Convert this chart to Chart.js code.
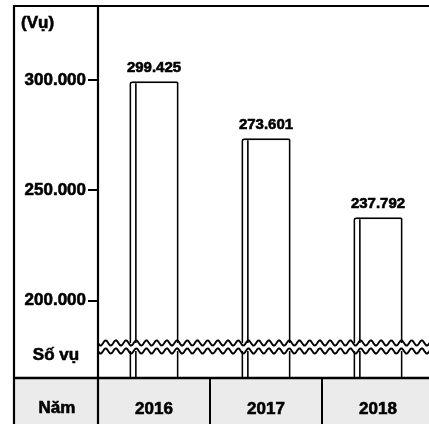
<!DOCTYPE html>
<html>
<head>
<meta charset="utf-8">
<script src="https://cdn.jsdelivr.net/npm/chart.js@4.4.0/dist/chart.umd.min.js"></script>
<style>
html,body{margin:0;padding:0;background:#fff;overflow:hidden;}
#wrap{width:440px;height:424px;position:relative;}
</style>
</head>
<body>
<div id="wrap"><canvas id="c" width="440" height="424"></canvas></div>
<script>
const categories = ["2016", "2017", "2018"];
const values = [299425, 273601, 237792];
const yTicks = [200000, 250000, 300000];
const unitLabel = "(Vụ)";
const seriesLabel = "Số vụ";
const rowLabel = "Năm";

const FONT = "'Liberation Sans', Arial, Helvetica, sans-serif";
function fmt(v){ return String(v).replace(/\B(?=(\d{3})+(?!\d))/g, "."); }

function boldText(ctx, t, x, y){
  ctx.lineWidth = 0.6; ctx.strokeStyle = '#000';
  ctx.strokeText(t, x, y); ctx.fillText(t, x, y);
}

const framePlugin = {
  id: 'frame',
  beforeDraw(chart){
    const ctx = chart.ctx, a = chart.chartArea;
    const H = chart.height, W = chart.width;
    ctx.save();
    ctx.fillStyle = '#ebebeb';
    ctx.fillRect(14, a.bottom, W - 14, H - a.bottom);
    ctx.restore();
  },
  afterDatasetsDraw(chart){
    const ctx = chart.ctx, a = chart.chartArea;
    const H = chart.height, W = chart.width;
    const meta = chart.getDatasetMeta(0);
    ctx.save();
    meta.data.forEach((bar, i) => {
      const left = bar.x - bar.width/2;
      ctx.strokeStyle = '#000'; ctx.lineWidth = 1.6;
      ctx.beginPath(); ctx.moveTo(left + 6.5, bar.y + 2); ctx.lineTo(left + 6.5, a.bottom); ctx.stroke();
      ctx.fillStyle = '#000';
      ctx.font = "bold 15px " + FONT;
      ctx.textAlign = 'center'; ctx.textBaseline = 'middle';
      boldText(ctx, fmt(values[i]), bar.x, bar.y - 13);
    });
    const y1 = a.bottom - 35, y2 = a.bottom - 27;
    ctx.fillStyle = '#fff';
    ctx.fillRect(a.left + 1, y1, W - a.left, y2 - y1);
    ctx.strokeStyle = '#000'; ctx.lineWidth = 1.9;
    [y1, y2].forEach(y => {
      ctx.beginPath();
      for (let x = a.left; x <= W; x += 1) {
        const yy = y + 2.6 * Math.sin((x - a.left) * 2 * Math.PI / 10.2);
        if (x === a.left) ctx.moveTo(x, yy); else ctx.lineTo(x, yy);
      }
      ctx.stroke();
    });
    ctx.strokeStyle = '#000';
    ctx.lineWidth = 2.2;
    ctx.beginPath();
    ctx.moveTo(14, H); ctx.lineTo(14, a.top); ctx.lineTo(W, a.top);
    ctx.moveTo(a.left, a.top); ctx.lineTo(a.left, H);
    ctx.stroke();
    ctx.lineWidth = 2.6;
    ctx.beginPath(); ctx.moveTo(14, a.bottom); ctx.lineTo(W, a.bottom); ctx.stroke();
    const xs = chart.scales.x;
    ctx.lineWidth = 2;
    for (let i = 1; i < categories.length; i++) {
      const xb = (xs.getPixelForValue(i - 1) + xs.getPixelForValue(i)) / 2;
      ctx.beginPath(); ctx.moveTo(xb, a.bottom); ctx.lineTo(xb, H); ctx.stroke();
    }
    ctx.fillStyle = '#000';
    ctx.font = "bold 17px " + FONT;
    ctx.textAlign = 'left'; ctx.textBaseline = 'middle';
    boldText(ctx, unitLabel, 21, 23);
    ctx.textAlign = 'center';
    boldText(ctx, seriesLabel, 56, a.bottom - 23);
    boldText(ctx, rowLabel, 57, a.bottom + 30);
    ctx.restore();
  }
};

new Chart(document.getElementById('c'), {
  type: 'bar',
  data: {
    labels: categories,
    datasets: [{
      data: values,
      backgroundColor: '#ffffff',
      borderColor: '#000000',
      borderWidth: 2,
      borderSkipped: 'bottom',
      borderRadius: {topLeft: 3, topRight: 2},
      categoryPercentage: 1,
      barPercentage: 0.44
    }]
  },
  options: {
    responsive: false,
    animation: false,
    layout: { padding: { top: 6, right: 6, left: 0, bottom: 0 } },
    plugins: { legend: { display: false }, tooltip: { enabled: false } },
    scales: {
      x: {
        afterFit(s){ s.height = 46; s.paddingLeft = 0; s.paddingRight = 0; },
        grid: { display: false, drawTicks: false },
        border: { display: false },
        ticks: { color: '#000', font: { family: FONT, size: 17, weight: 'bold' }, padding: 21,
                 textStrokeColor: '#000', textStrokeWidth: 0.6 }
      },
      y: {
        min: 165000, max: 333500,
        afterFit(s){ s.width = 98; s.paddingTop = 0; s.paddingBottom = 0; },
        afterBuildTicks(s){ s.ticks = yTicks.map(v => ({ value: v })); },
        grid: { drawOnChartArea: false, color: '#000', lineWidth: 2, tickLength: 10 },
        border: { display: false },
        ticks: { color: '#000', font: { family: FONT, size: 17, weight: 'bold' }, padding: 2, callback: v => fmt(v),
                 textStrokeColor: '#000', textStrokeWidth: 0.6 }
      }
    }
  },
  plugins: [framePlugin]
});
</script>
</body>
</html>
